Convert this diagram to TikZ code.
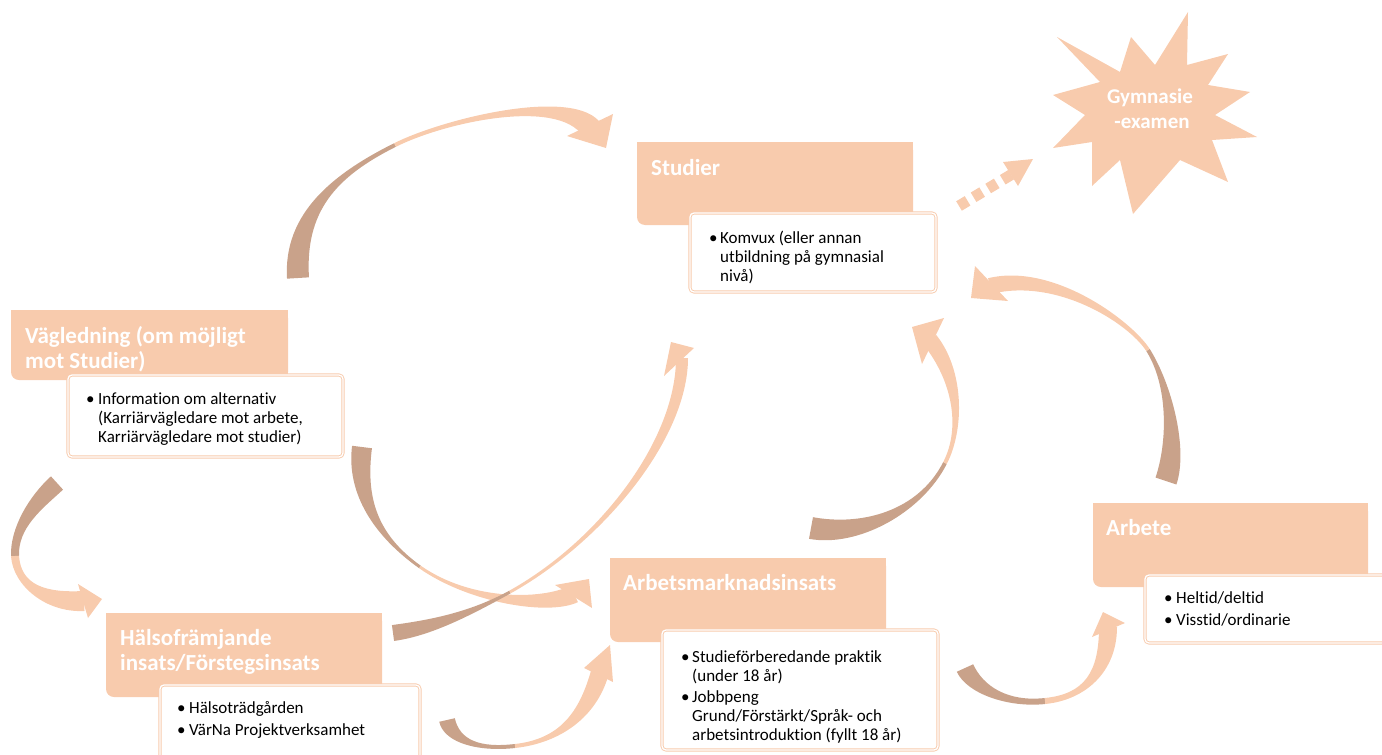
\documentclass[tikz,border=0pt]{standalone}
\usepackage{fontspec}
\setmainfont{Carlito}[Ligatures=NoCommon]
\usetikzlibrary{calc}
\definecolor{peach}{HTML}{F8CBAD}
\definecolor{darkrib}{HTML}{C9A28A}
% ribbon segment: P0, C1, C2, P3, half-width start, half-width end, colour
\newcommand\ribbon[7]{%
  \fill[#7] ($(#1)!#5!90:(#2)$) .. controls ($(#2)!#5!-90:(#1)$) and ($(#3)!#6!90:(#4)$) .. ($(#4)!#6!-90:(#3)$)
   -- ($(#4)!#6!90:(#3)$) .. controls ($(#3)!#6!-90:(#4)$) and ($(#2)!#5!90:(#1)$) .. ($(#1)!#5!-90:(#2)$) -- cycle;}
\newcommand\hdrbox[4]{%
  \fill[peach, rounded corners=8pt] (#1,#2) rectangle (#3,#4);
  \fill[peach] (#1,#2) rectangle (#3,#4-10);
  \fill[peach] (#1+10,#2) rectangle (#3,#4);}
\begin{document}
\begin{tikzpicture}[x=1pt,y=-1pt,
  hdr/.style={anchor=base west, inner sep=0pt, text=white, font=\fontsize{23}{27}\selectfont\bfseries},
  body/.style={anchor=base west, inner sep=0pt, text=black, font=\fontsize{17}{20}\selectfont},
  startxt/.style={anchor=base, inner sep=0pt, text=white, font=\fontsize{21}{25}\selectfont\bfseries},
  subbox/.style={fill=white, draw=peach, line width=0.9pt, double=white, double distance=1.3pt, rounded corners=4pt},
  head/.style={fill=peach}]
\useasboundingbox (0,0) rectangle (1382,755);

% ---------- coordinates of the curved arrows ----------
% A: Vagledning -> Studier
\coordinate (A0) at (298,278); \coordinate (A1) at (294,212); \coordinate (A2) at (335,175); \coordinate (Am) at (395,145);
\coordinate (A3) at (445,120); \coordinate (A4) at (567,92); \coordinate (A5) at (592,130);
\coordinate (Ah1) at (567,136); \coordinate (Ah2) at (613,114); \coordinate (Ah3) at (606,148);
% B: Vagledning -> Halsoframjande
\coordinate (B0) at (57,483); \coordinate (B1) at (35,503); \coordinate (B2) at (14,528); \coordinate (Bm) at (15,556);
\coordinate (B3) at (17,585); \coordinate (B4) at (45,603); \coordinate (B5) at (84,601);
\coordinate (Bh1) at (78,584); \coordinate (Bh2) at (102,599); \coordinate (Bh3) at (88,618);
% C: Vagledning -> Arbetsmarknadsinsats
\coordinate (C0) at (362,447); \coordinate (C1) at (356,495); \coordinate (C2) at (375,535); \coordinate (Cm) at (420,567);
\coordinate (C3) at (470,602); \coordinate (C4) at (545,608); \coordinate (C5) at (574,594);
\coordinate (Ch1) at (555,585); \coordinate (Ch2) at (589,579); \coordinate (Ch3) at (592,608);
% D: Halsoframjande -> Studier
\coordinate (D0) at (393,633); \coordinate (D1) at (430,628); \coordinate (D2) at (470,614); \coordinate (Dm) at (510,592);
\coordinate (D3) at (600,542); \coordinate (D4) at (682,440); \coordinate (D5) at (682,358);
\coordinate (Dh1) at (664,376); \coordinate (Dh2) at (671,342); \coordinate (Dh3) at (694,348);
% E: Arbetsmarknadsinsats -> Studier
\coordinate (E0) at (811,528); \coordinate (E1) at (860,537); \coordinate (E2) at (920,512); \coordinate (Em) at (945,463);
\coordinate (E3) at (963,428); \coordinate (E4) at (958,375); \coordinate (E5) at (930,340);
\coordinate (Eh1) at (912,327); \coordinate (Eh2) at (944,318); \coordinate (Eh3) at (922,364);
% F: Arbete -> Studier
\coordinate (F0) at (1166,481); \coordinate (F1) at (1178,445); \coordinate (F2) at (1170,385); \coordinate (Fm) at (1148,350);
\coordinate (F3) at (1130,322); \coordinate (F4) at (1055,270); \coordinate (F5) at (990,286);
\coordinate (Fh1) at (975,266); \coordinate (Fh2) at (971,298); \coordinate (Fh3) at (1008,301);
% G: Halsoframjande -> Arbetsmarknadsinsats
\coordinate (G0) at (447,720); \coordinate (G1) at (452,742); \coordinate (G2) at (480,750); \coordinate (Gm) at (515,746);
\coordinate (G3) at (560,741); \coordinate (G4) at (588,715); \coordinate (G5) at (600,672);
\coordinate (Gh1) at (584,668); \coordinate (Gh2) at (610,645); \coordinate (Gh3) at (613,682);
% H: Arbetsmarknadsinsats -> Arbete
\coordinate (H0) at (965,668); \coordinate (H1) at (975,690); \coordinate (H2) at (1008,705); \coordinate (Hm) at (1045,701);
\coordinate (H3) at (1085,697); \coordinate (H4) at (1108,672); \coordinate (H5) at (1108,627);
\coordinate (Hh1) at (1092,637); \coordinate (Hh2) at (1103,612); \coordinate (Hh3) at (1125,623);

% ---------- curved arrows ----------
\ribbon{A0}{A1}{A2}{Am}{11pt}{2pt}{darkrib}
\ribbon{Am}{A3}{A4}{A5}{2pt}{11pt}{peach}
\fill[head] (Ah1) -- (Ah2) -- (Ah3) -- cycle;

\ribbon{B0}{B1}{B2}{Bm}{9pt}{4pt}{darkrib}
\ribbon{Bm}{B3}{B4}{B5}{4pt}{10pt}{peach}
\fill[head] (Bh1) -- (Bh2) -- (Bh3) -- cycle;

\ribbon{C0}{C1}{C2}{Cm}{10pt}{1.5pt}{darkrib}
\ribbon{Cm}{C3}{C4}{C5}{1.5pt}{9pt}{peach}
\fill[head] (Ch1) -- (Ch2) -- (Ch3) -- cycle;

\ribbon{D0}{D1}{D2}{Dm}{8pt}{1.5pt}{darkrib}
\ribbon{Dm}{D3}{D4}{D5}{1.5pt}{6pt}{peach}
\fill[head] (Dh1) -- (Dh2) -- (Dh3) -- cycle;

\ribbon{E0}{E1}{E2}{Em}{11pt}{2pt}{darkrib}
\ribbon{Em}{E3}{E4}{E5}{2pt}{8pt}{peach}
\fill[head] (Eh1) -- (Eh2) -- (Eh3) -- cycle;

\ribbon{F0}{F1}{F2}{Fm}{11pt}{2pt}{darkrib}
\ribbon{Fm}{F3}{F4}{F5}{2pt}{8pt}{peach}
\fill[head] (Fh1) -- (Fh2) -- (Fh3) -- cycle;

\ribbon{G0}{G1}{G2}{Gm}{8pt}{2pt}{darkrib}
\ribbon{Gm}{G3}{G4}{G5}{2pt}{9pt}{peach}
\fill[head] (Gh1) -- (Gh2) -- (Gh3) -- cycle;

\ribbon{H0}{H1}{H2}{Hm}{9pt}{3pt}{darkrib}
\ribbon{Hm}{H3}{H4}{H5}{3pt}{9pt}{peach}
\fill[head] (Hh1) -- (Hh2) -- (Hh3) -- cycle;

% ---------- dotted arrow to the star ----------
\coordinate (dotS) at (959,206); \coordinate (dotE) at (1014,173);
\draw[peach, line width=11pt, dash pattern=on 10pt off 7pt] (dotS) -- (dotE);
\fill[head] (1003,162) -- (1033,159) -- (1018,186) -- cycle;

% ---------- star ----------
\fill[peach] (1057,37) -- (1120,72) -- (1131,37) -- (1155,65) -- (1188,12) -- (1187,65)
  -- (1228,54) -- (1208,85) -- (1250,92) -- (1215,115) -- (1257,137) -- (1212,140)
  -- (1228,182) -- (1180,160) -- (1133,214) -- (1120,160) -- (1092,186) -- (1092,142)
  -- (1053,148) -- (1085,115) -- (1053,95) -- (1100,82) -- cycle;
\node[startxt] (gy1) at (1150,103) {Gymnasie};
\node[startxt] (gy2) at (1152,128) {-examen};

% ---------- Studier ----------
\hdrbox{637}{142}{913}{225}
\node[hdr] (studH) at (651,175) {Studier};
\draw[subbox] (690,213) rectangle (936,292);
\node[body] (studB) at (709,243) {\textbullet};
\node[body] (stud1) at (720,243) {Komvux (eller annan};
\node[body] (stud2) at (720,262) {utbildning på gymnasial};
\node[body] (stud3) at (720,281) {nivå)};

% ---------- Vägledning ----------
\hdrbox{11}{310}{288}{380}
\node[hdr] (vagH1) at (25,343) {Vägledning (om möjligt};
\node[hdr] (vagH2) at (25,368) {mot Studier)};
\draw[subbox] (68,375) rectangle (343,457);
\node[body] (vagB) at (86,404) {\textbullet};
\node[body] (vag1) at (98,404) {Information om alternativ};
\node[body] (vag2) at (98,423) {(Karriärvägledare mot arbete,};
\node[body] (vag3) at (98,442) {Karriärvägledare mot studier)};

% ---------- Hälsofrämjande ----------
\hdrbox{106}{613}{382}{697}
\node[hdr] (halH1) at (120,645) {Hälsofrämjande};
\node[hdr] (halH2) at (120,670) {insats/Förstegsinsats};
\draw[subbox] (160,685) rectangle (420,775);
\node[body] (halB1) at (177,713) {\textbullet};
\node[body] (hal1) at (189,713) {Hälsoträdgården};
\node[body] (halB2) at (177,735) {\textbullet};
\node[body] (hal2) at (189,735) {VärNa Projektverksamhet};

% ---------- Arbetsmarknadsinsats ----------
\hdrbox{610}{558}{886}{642}
\node[hdr] (amH) at (623,590) {Arbetsmarknadsinsats};
\draw[subbox] (662,630) rectangle (938,750);
\node[body] (amB1) at (681,662) {\textbullet};
\node[body] (am1) at (692,662) {Studieförberedande praktik};
\node[body] (am2) at (692,681) {(under 18 år)};
\node[body] (amB2) at (681,702) {\textbullet};
\node[body] (am3) at (692,702) {Jobbpeng};
\node[body] (am4) at (692,721) {Grund/Förstärkt/Språk- och};
\node[body] (am5) at (692,740) {arbetsintroduktion (fyllt 18 år)};

% ---------- Arbete ----------
\hdrbox{1093}{503}{1368}{587}
\node[hdr] (arbH) at (1106,535) {Arbete};
\draw[subbox] (1145,575) rectangle (1400,643);
\node[body] (arbB1) at (1164,603) {\textbullet};
\node[body] (arb1) at (1176,603) {Heltid/deltid};
\node[body] (arbB2) at (1164,625) {\textbullet};
\node[body] (arb2) at (1176,625) {Visstid/ordinarie};
\end{tikzpicture}
\end{document}
